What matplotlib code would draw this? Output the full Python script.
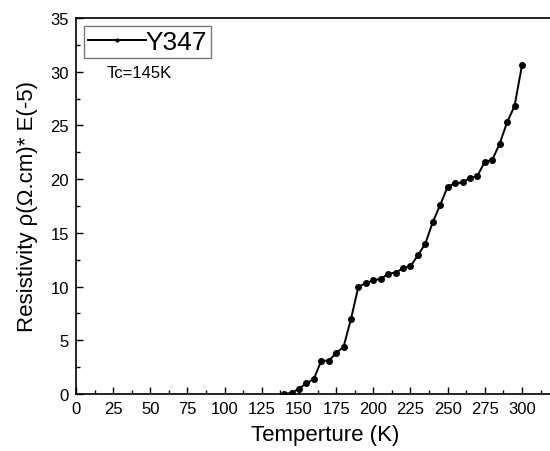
import numpy as np
import matplotlib.pyplot as plt
from matplotlib.ticker import MultipleLocator

plt.rcParams['font.family'] = ['Liberation Sans', 'DejaVu Sans']

# --- resistivity curve of sample Y347 ---
temperature_k = [140, 145, 150, 155, 160, 165, 170, 175, 180, 185,
                 190, 195, 200, 205, 210, 215, 220, 225, 230, 235,
                 240, 245, 250, 255, 260, 265, 270, 275, 280, 285,
                 290, 295, 300]
resistivity = [0.0, 0.1, 0.5, 1.0, 1.4, 3.1, 3.1, 3.8, 4.4, 7.0,
               10.0, 10.3, 10.6, 10.7, 11.2, 11.3, 11.7, 11.9, 12.9, 14.0,
               16.0, 17.6, 19.3, 19.6, 19.7, 20.1, 20.3, 21.6, 21.8, 23.3,
               25.3, 26.8, 30.6]
sample_name = "Y347"
tc_note = "Tc=145K"

fig = plt.figure(figsize=(5.5, 4.52), dpi=100)
# the frame runs a little past the right edge of the canvas
ax = fig.add_axes([76 / 550, 1 - 395 / 452, (574 - 76) / 550, (395 - 19) / 452])

ax.plot(temperature_k, resistivity, color='black', lw=1.4,
        marker='o', ms=4, label=sample_name)

ax.set_xlim(0, 335)
ax.set_ylim(0, 35)
ax.set_xticks(np.arange(0, 301, 25))
ax.xaxis.set_minor_locator(MultipleLocator(12.5))
ax.yaxis.set_major_locator(MultipleLocator(5))
ax.yaxis.set_minor_locator(MultipleLocator(2.5))
ax.tick_params(which='both', direction='in', top=False, right=False,
               labelsize=12, width=1, pad=5)
ax.tick_params(which='major', length=5)
ax.tick_params(which='minor', length=3)
for s in ax.spines.values():
    s.set_linewidth(1.2)
ax.spines['right'].set_visible(False)

ax.set_xlabel("Temperture (K)", fontsize=16, labelpad=6)
ax.set_ylabel("Resistivity ρ(Ω.cm)* E(-5)", fontsize=16, labelpad=9)

leg = ax.legend(loc='upper left', fontsize=19, frameon=True, fancybox=False,
                edgecolor='#555555', handlelength=2.2, handletextpad=0.0,
                borderpad=0.15, borderaxespad=0.3, markerscale=0.5)
leg.get_frame().set_linewidth(1.0)

ax.text(0.062, 0.855, tc_note, transform=ax.transAxes, fontsize=12,
        ha='left', va='center')

fig.savefig("out.png", dpi=100)
